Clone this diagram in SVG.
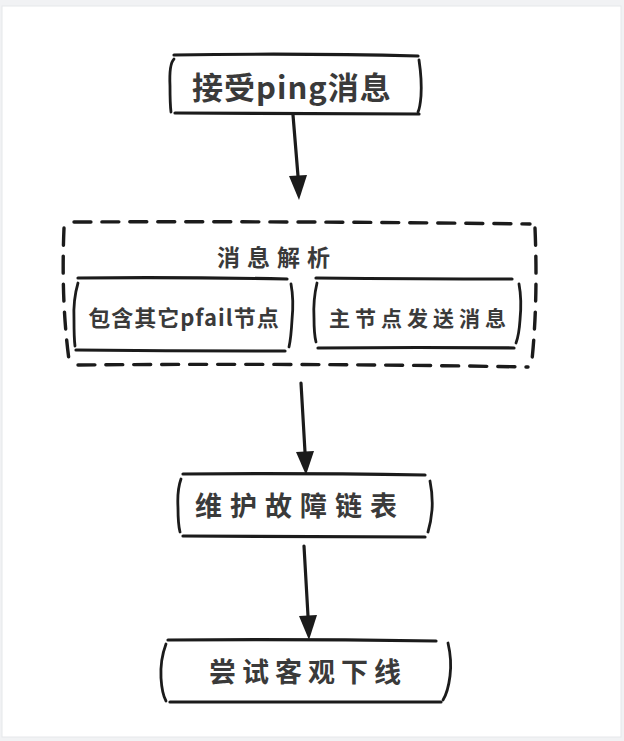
<svg xmlns="http://www.w3.org/2000/svg" width="624" height="741" viewBox="0 0 624 741">
<style>
.ln{fill:none;stroke:#1b1b1b;stroke-width:3.2;stroke-linecap:round;stroke-linejoin:round}
.br{fill:none;stroke:#1b1b1b;stroke-width:2.8;stroke-linecap:round}
.ds{fill:none;stroke:#1b1b1b;stroke-width:3.4;stroke-dasharray:17 11;stroke-linecap:round}
.t{font-family:"Noto Sans CJK SC","Noto Sans",sans-serif;fill:#3a3a3a;text-anchor:middle;font-weight:bold}
.ar{fill:none;stroke:#1b1b1b;stroke-width:3.2;stroke-linecap:round}
</style>
<rect x="0" y="0" width="624" height="741" fill="#f1f2f4"/>
<rect x="2" y="6" width="619" height="731" fill="#ffffff" stroke="#e6e7ea" stroke-width="1"/>

<g id="node-receive">
<path class="ln" d="M174,55 Q300,53 418,56"/>
<path class="ln" d="M175,113 Q300,114 419,114"/>
<path class="br" d="M174,59 Q169,64 170,86 Q170,104 171,112"/>
<path class="br" d="M419,60 Q422,80 421,96 Q420,108 418,112"/>
<text class="t" x="292" y="99" font-size="31" letter-spacing="1">接受ping消息</text>
</g>

<g id="node-parse">
<path class="ds" d="M74,222 Q300,221 530,224"/>
<path class="ds" d="M78,365 Q300,363 528,367"/>
<path class="ds" d="M64,228 Q61,300 69,360"/>
<path class="ds" d="M535,228 Q538,300 532,360"/>
<text class="t" x="277" y="266" font-size="23" letter-spacing="7">消息解析</text>
</g>

<g id="node-pfail">
<path class="ln" d="M78,278 Q180,277 287,279"/>
<path class="ln" d="M76,350 Q180,351 285,351"/>
<path class="br" d="M78,283 Q73,300 74,320 Q74,338 75,346"/>
<path class="br" d="M291,284 Q294,300 292,320 Q291,338 289,347"/>
<text class="t" x="184" y="326" font-size="22" letter-spacing="1">包含其它pfail节点</text>
</g>

<g id="node-master">
<path class="ln" d="M316,278 Q420,279 512,279"/>
<path class="ln" d="M318,348 Q420,347 514,348"/>
<path class="br" d="M317,283 Q313,300 314,318 Q314,334 316,342"/>
<path class="br" d="M519,284 Q522,300 520,320 Q519,335 516,343"/>
<text class="t" x="420" y="326" font-size="21" letter-spacing="5">主节点发送消息</text>
</g>

<g id="node-maintain">
<path class="ln" d="M183,474 Q300,473 425,475"/>
<path class="ln" d="M183,536 Q300,537 425,537"/>
<path class="br" d="M181,479 Q177,490 178,508 Q178,524 180,532"/>
<path class="br" d="M430,481 Q433,496 432,510 Q431,522 428,532"/>
<text class="t" x="300" y="516" font-size="27" letter-spacing="8">维护故障链表</text>
</g>

<g id="node-offline">
<path class="ln" d="M168,640 Q300,639 436,641"/>
<path class="ln" d="M170,702 Q300,702 441,702"/>
<path class="br" d="M166,644 Q160,660 161,678 Q162,694 166,701"/>
<path class="br" d="M448,643 Q452,660 450,676 Q448,692 443,700"/>
<text class="t" x="308" y="682" font-size="27" letter-spacing="6">尝试客观下线</text>
</g>

<g id="connectors">
<path class="ar" d="M293,115 L298,176"/>
<path d="M289,176 L307,175 L299,200 Z" fill="#1b1b1b"/>
<path class="ar" d="M301,383 L305,452"/>
<path d="M296,452 L314,451 L306,475 Z" fill="#1b1b1b"/>
<path class="ar" d="M304,546 L308,616"/>
<path d="M299,616 L317,615 L309,640 Z" fill="#1b1b1b"/>
</g>
</svg>
